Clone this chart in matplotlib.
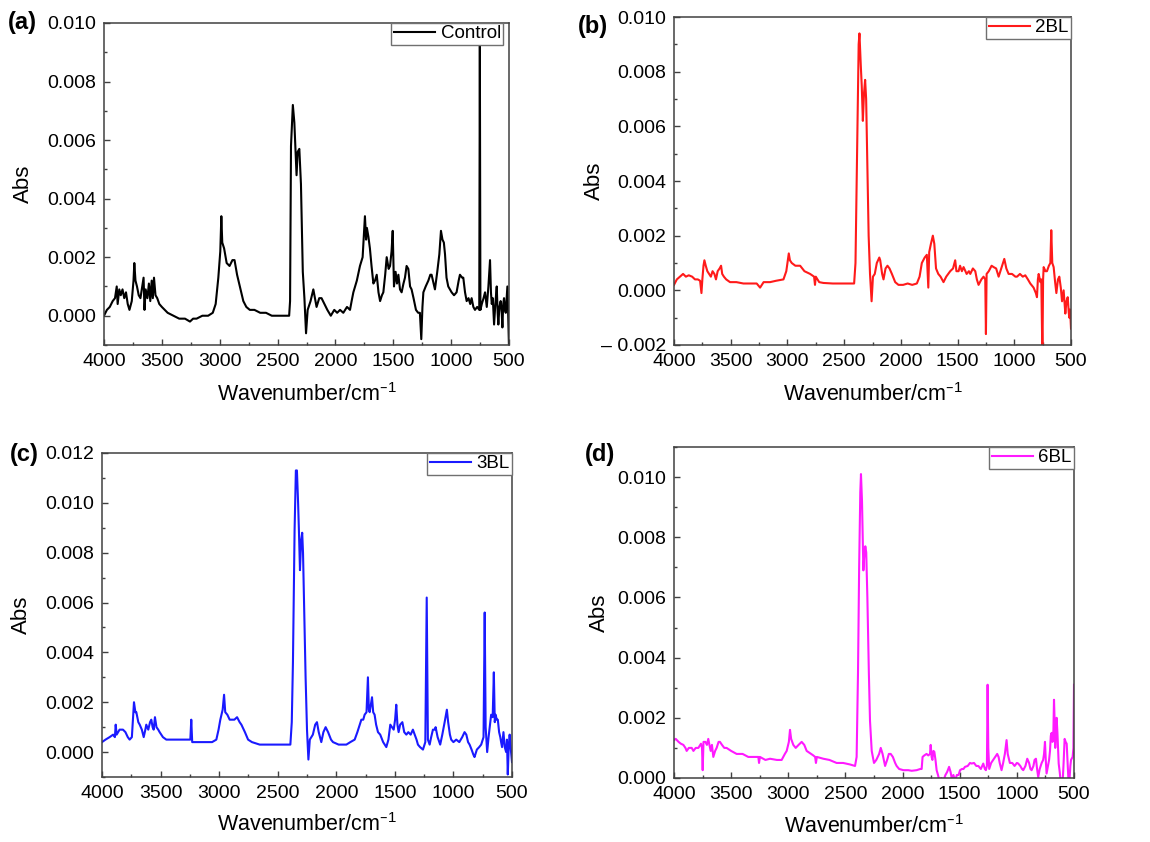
import matplotlib
matplotlib.use("Agg")
import matplotlib.pyplot as plt
from matplotlib.ticker import MultipleLocator

plt.rcParams['font.family'] = ['Liberation Sans', 'DejaVu Sans']
plt.rcParams['mathtext.default'] = 'regular'

# ---- data (wavenumber / absorbance) ----
control_wn = [4000, 3975, 3950, 3925, 3905, 3890, 3882, 3868, 3855, 3840, 3825, 3810, 3795, 3780,
              3760, 3745, 3738, 3728, 3715, 3700, 3685, 3670, 3658, 3650, 3640, 3625, 3612, 3600,
              3588, 3578, 3568, 3555, 3540, 3522, 3500, 3475, 3450, 3400, 3350, 3300, 3257, 3230,
              3200, 3150, 3100, 3060, 3035, 3012, 2995, 2986, 2978, 2962, 2940, 2915, 2890, 2872,
              2850, 2820, 2796, 2770, 2740, 2700, 2650, 2600, 2550, 2500, 2450, 2400, 2392, 2384,
              2368, 2355, 2336, 2326, 2312, 2298, 2282, 2268, 2254, 2240, 2215, 2191, 2163, 2140,
              2120, 2095, 2070, 2040, 2010, 1985, 1960, 1932, 1900, 1874, 1860, 1845, 1815, 1788,
              1765, 1745, 1735, 1728, 1715, 1702, 1688, 1672, 1658, 1643, 1628, 1614, 1598, 1586,
              1570, 1557, 1540, 1528, 1515, 1505, 1494, 1480, 1468, 1456, 1442, 1428, 1412, 1399,
              1385, 1370, 1355, 1342, 1325, 1304, 1285, 1270, 1258, 1248, 1240, 1220, 1197, 1180,
              1169, 1152, 1140, 1120, 1102, 1088, 1075, 1063, 1053, 1040, 1025, 1010, 996, 975,
              953, 935, 924, 905, 895, 880, 866, 850, 835, 823, 808, 794, 775, 757, 752, 747, 735,
              720, 707, 692, 678, 664, 656, 649, 640, 629, 618, 606, 598, 592, 583, 572, 563, 557,
              550, 543, 535, 528, 520, 514, 508, 500]
control_abs = [0.0000, 0.0002, 0.0003, 0.0005, 0.0006, 0.0010, 0.0004, 0.0009, 0.0007, 0.0009,
               0.0006, 0.0008, 0.0004, 0.0002, 0.0005, 0.0012, 0.0018, 0.0012, 0.0010, 0.0007,
               0.0006, 0.0010, 0.0013, 0.0002, 0.0009, 0.0006, 0.0011, 0.0005, 0.0012, 0.0006,
               0.0013, 0.0007, 0.0006, 0.0004, 0.0003, 0.0002, 0.0001, 0.0000, -0.0001, -0.0001,
               -0.0002, -0.0001, -0.0001, 0.0000, 0.0000, 0.0001, 0.0004, 0.0013, 0.0022, 0.0034,
               0.0025, 0.0023, 0.0018, 0.0017, 0.0019, 0.0019, 0.0014, 0.0009, 0.0005, 0.0003,
               0.0002, 0.0002, 0.0001, 0.0001, 0.0000, 0.0000, 0.0000, 0.0000, 0.0005, 0.0058,
               0.0072, 0.0066, 0.0048, 0.0056, 0.0057, 0.0045, 0.0015, 0.0006, -0.0006, 0.0002,
               0.0005, 0.0009, 0.0003, 0.0006, 0.0006, 0.0004, 0.0002, 0.0000, 0.0002, 0.0001,
               0.0002, 0.0001, 0.0003, 0.0002, 0.0005, 0.0008, 0.0012, 0.0017, 0.0020, 0.0034,
               0.0026, 0.0030, 0.0027, 0.0023, 0.0017, 0.0011, 0.0012, 0.0014, 0.0008, 0.0005,
               0.0007, 0.0008, 0.0014, 0.0020, 0.0016, 0.0017, 0.0022, 0.0029, 0.0010, 0.0015,
               0.0011, 0.0014, 0.0009, 0.0008, 0.0011, 0.0013, 0.0017, 0.0016, 0.0010, 0.0009,
               0.0006, 0.0002, 0.0001, 0.0001, -0.0008, 0.0003, 0.0008, 0.0010, 0.0012, 0.0014,
               0.0014, 0.0011, 0.0009, 0.0015, 0.0021, 0.0029, 0.0026, 0.0025, 0.0021, 0.0013,
               0.0010, 0.0009, 0.0008, 0.0007, 0.0008, 0.0012, 0.0014, 0.0013, 0.0013, 0.0008,
               0.0005, 0.0006, 0.0004, 0.0006, 0.0003, 0.0002, 0.0003, 0.0002, 0.0094, 0.0002,
               0.0004, 0.0006, 0.0008, 0.0003, 0.0010, 0.0019, 0.0008, 0.0004, 0.0006, -0.0003,
               0.0004, 0.0010, 0.0001, -0.0003, 0.0003, 0.0005, 0.0001, -0.0004, 0.0004, 0.0006,
               0.0002, 0.0001, 0.0006, 0.0010, 0.0002, -0.0011]

bl2_wn = [4000, 3975, 3947, 3920, 3895, 3870, 3840, 3815, 3790, 3770, 3758, 3750, 3740, 3732,
          3720, 3706, 3690, 3675, 3660, 3644, 3630, 3615, 3598, 3585, 3575, 3560, 3540, 3506,
          3450, 3388, 3330, 3271, 3241, 3210, 3153, 3100, 3035, 3010, 3000, 2988, 2978, 2962,
          2930, 2888, 2850, 2800, 2765, 2757, 2750, 2720, 2683, 2600, 2500, 2412, 2400, 2388,
          2372, 2365, 2353, 2345, 2335, 2325, 2315, 2306, 2298, 2284, 2272, 2258, 2246, 2230,
          2212, 2190, 2182, 2165, 2153, 2135, 2118, 2100, 2079, 2050, 2021, 1980, 1940, 1900,
          1859, 1835, 1815, 1790, 1771, 1758, 1750, 1735, 1718, 1705, 1690, 1670, 1650, 1624,
          1600, 1565, 1540, 1521, 1510, 1491, 1478, 1462, 1447, 1420, 1400, 1388, 1365, 1344,
          1330, 1315, 1290, 1271, 1256, 1250, 1244, 1225, 1200, 1182, 1160, 1138, 1115, 1100,
          1088, 1070, 1050, 1020, 990, 976, 950, 925, 903, 880, 859, 830, 810, 800, 792, 785,
          770, 762, 752, 746, 741, 725, 712, 695, 682, 674, 665, 653, 640, 629, 615, 603, 590,
          579, 565, 550, 540, 529, 520, 515, 508, 500]
bl2_abs = [0.0002, 0.0004, 0.0005, 0.0006, 0.0005, 0.00055, 0.0005, 0.0004, 0.0004, 0.00035,
           -0.0001, 0.0004, 0.0009, 0.0011, 0.0009, 0.0007, 0.0006, 0.0005, 0.0007, 0.0006,
           0.0004, 0.0007, 0.0008, 0.0009, 0.0006, 0.0005, 0.0004, 0.0003, 0.0003, 0.00025,
           0.00025, 0.00025, 0.0001, 0.0003, 0.0003, 0.00035, 0.0004, 0.0007, 0.0010, 0.00135,
           0.0011, 0.0010, 0.0009, 0.0009, 0.0007, 0.0006, 0.0005, 0.0002, 0.0005, 0.0003,
           0.00027, 0.00025, 0.00025, 0.00025, 0.0010, 0.0045, 0.0090, 0.0094, 0.0082, 0.0075,
           0.0062, 0.0072, 0.0077, 0.0070, 0.0052, 0.0020, 0.0006, -0.0004, 0.0005, 0.0006,
           0.0010, 0.0012, 0.0011, 0.0006, 0.0004, 0.0008, 0.0009, 0.0008, 0.0006, 0.0003,
           0.0002, 0.0002, 0.00025, 0.0002, 0.00025, 0.0005, 0.0010, 0.0012, 0.0013, 0.0001,
           0.0014, 0.0017, 0.0020, 0.0017, 0.0008, 0.0006, 0.0005, 0.0003, 0.0005, 0.0007,
           0.0008, 0.0011, 0.0007, 0.0007, 0.0009, 0.0007, 0.00085, 0.0006, 0.0007, 0.0006,
           0.0008, 0.0007, 0.0004, 0.0002, 0.0004, 0.0005, 0.0004, -0.0016, 0.0006, 0.0007,
           0.0009, 0.00085, 0.0008, 0.0005, 0.0008, 0.0010, 0.00115, 0.0008, 0.0006, 0.0006,
           0.0005, 0.0005, 0.0006, 0.0005, 0.00055, 0.0004, 0.00025, 0.0001, -0.0001, -0.00025,
           0.0004, 0.0006, 0.0003, 0.0004, -0.0025, 0.0004, 0.00085, 0.0007, 0.0007, 0.0009,
           0.0010, 0.0022, 0.0010, 0.00085, 0.0003, -0.0001, 0.0004, 0.0005, 0.0001, -0.0004,
           0.0000, -0.00085, -0.0004, -0.00025, -0.0008, -0.0010, -0.0007, -0.0014]

bl3_wn = [4000, 3970, 3935, 3905, 3890, 3883, 3875, 3850, 3821, 3800, 3780, 3764, 3745, 3735,
          3727, 3715, 3707, 3690, 3678, 3660, 3644, 3630, 3622, 3605, 3590, 3579, 3568, 3559,
          3548, 3535, 3520, 3508, 3480, 3451, 3400, 3337, 3290, 3246, 3238, 3230, 3200, 3150,
          3110, 3060, 3024, 3005, 2990, 2970, 2958, 2948, 2930, 2910, 2895, 2870, 2847, 2825,
          2810, 2780, 2753, 2720, 2654, 2600, 2512, 2450, 2392, 2380, 2370, 2356, 2345, 2336,
          2326, 2319, 2310, 2300, 2291, 2284, 2276, 2262, 2250, 2238, 2226, 2200, 2180, 2165,
          2150, 2128, 2110, 2091, 2070, 2045, 2028, 1980, 1950, 1914, 1880, 1843, 1820, 1800,
          1786, 1770, 1758, 1742, 1730, 1722, 1715, 1705, 1695, 1685, 1673, 1660, 1644, 1625,
          1600, 1573, 1555, 1539, 1525, 1510, 1498, 1488, 1478, 1468, 1455, 1436, 1420, 1402,
          1385, 1365, 1346, 1330, 1315, 1303, 1285, 1260, 1240, 1228, 1218, 1203, 1190, 1175,
          1160, 1152, 1135, 1113, 1095, 1075, 1056, 1045, 1030, 1019, 1000, 976, 950, 925, 905,
          890, 875, 862, 845, 830, 820, 800, 780, 763, 750, 743, 733, 725, 712, 700, 690, 678,
          665, 655, 647, 640, 630, 621, 610, 600, 593, 585, 573, 562, 550, 543, 536, 528, 520,
          510, 500]
bl3_abs = [0.0004, 0.0005, 0.0006, 0.0007, 0.0006, 0.0011, 0.0007, 0.0009, 0.0009, 0.0008,
           0.0006, 0.0005, 0.0006, 0.0014, 0.0020, 0.0016, 0.0016, 0.0012, 0.0011, 0.0009,
           0.0006, 0.0009, 0.0011, 0.0009, 0.0012, 0.0013, 0.0010, 0.0009, 0.0014, 0.0010,
           0.0009, 0.0008, 0.0006, 0.0005, 0.0005, 0.0005, 0.0005, 0.0005, 0.0013, 0.0004,
           0.0004, 0.0004, 0.0004, 0.0004, 0.0005, 0.0009, 0.0013, 0.0017, 0.0023, 0.0016,
           0.0015, 0.0013, 0.0013, 0.0013, 0.0014, 0.0012, 0.0011, 0.0008, 0.0005, 0.0004,
           0.0003, 0.0003, 0.0003, 0.0003, 0.0003, 0.0012, 0.0036, 0.0089, 0.0113, 0.0113,
           0.0100, 0.0089, 0.0073, 0.0085, 0.0088, 0.0080, 0.0062, 0.0030, 0.0009, -0.0003,
           0.0005, 0.0007, 0.0011, 0.0012, 0.0008, 0.0004, 0.0008, 0.0010, 0.0008, 0.0005,
           0.0004, 0.0003, 0.0003, 0.0003, 0.0004, 0.0005, 0.0008, 0.0011, 0.0013, 0.0013,
           0.0015, 0.0016, 0.0030, 0.0017, 0.0016, 0.0019, 0.0022, 0.0016, 0.0015, 0.0011,
           0.0008, 0.0007, 0.0004, 0.0002, 0.0005, 0.0011, 0.0010, 0.0009, 0.0013, 0.0019,
           0.0011, 0.0008, 0.0011, 0.0012, 0.0008, 0.0007, 0.0008, 0.0007, 0.0009, 0.0007,
           0.0005, 0.0003, 0.0002, 0.0001, 0.0004, 0.0062, 0.0005, 0.0003, 0.0006, 0.0009,
           0.0009, 0.0010, 0.0006, 0.0003, 0.0007, 0.0012, 0.0017, 0.0012, 0.0007, 0.0005,
           0.0004, 0.0005, 0.0004, 0.0006, 0.0008, 0.0007, 0.0004, 0.0003, 0.0001, -0.0001,
           -0.0002, 0.0001, 0.0002, 0.0003, 0.0005, 0.0006, 0.0056, 0.0010, 0.0000, 0.0006,
           0.0010, 0.0015, 0.0014, 0.0032, 0.0012, 0.0015, 0.0013, 0.0013, 0.0008, 0.0006,
           0.0004, 0.0002, 0.0008, 0.0002, 0.0000, 0.0005, -0.0009, 0.0002, 0.0007, 0.0001,
           -0.0004]

bl6_wn = [4000, 3985, 3960, 3940, 3918, 3900, 3889, 3870, 3845, 3830, 3810, 3787, 3764, 3755,
          3749, 3742, 3725, 3712, 3700, 3690, 3679, 3668, 3656, 3640, 3627, 3610, 3598, 3580,
          3560, 3540, 3500, 3452, 3400, 3350, 3306, 3262, 3256, 3248, 3200, 3160, 3100, 3058,
          3030, 3014, 2995, 2985, 2975, 2956, 2935, 2910, 2883, 2860, 2839, 2800, 2781, 2765,
          2758, 2750, 2693, 2640, 2577, 2520, 2460, 2416, 2402, 2390, 2380, 2370, 2364, 2355,
          2343, 2335, 2326, 2318, 2308, 2295, 2285, 2270, 2250, 2230, 2205, 2191, 2175, 2153,
          2135, 2120, 2104, 2085, 2065, 2052, 2030, 1993, 1950, 1920, 1877, 1845, 1833, 1825,
          1810, 1790, 1775, 1760, 1754, 1746, 1739, 1730, 1722, 1712, 1702, 1690, 1677, 1660,
          1643, 1625, 1610, 1593, 1580, 1570, 1555, 1541, 1525, 1510, 1497, 1480, 1467, 1454,
          1430, 1410, 1396, 1375, 1355, 1337, 1315, 1294, 1280, 1271, 1262, 1256, 1250, 1242,
          1225, 1207, 1190, 1172, 1160, 1150, 1134, 1120, 1105, 1090, 1080, 1061, 1040, 1020,
          1000, 988, 970, 955, 944, 925, 909, 893, 881, 871, 855, 845, 833, 823, 813, 800, 783,
          770, 762, 754, 747, 740, 728, 718, 710, 703, 696, 688, 680, 675, 669, 664, 658, 652,
          645, 634, 625, 617, 608, 600, 591, 582, 573, 564, 555, 547, 540, 532, 526, 512, 505,
          500]
bl6_abs = [0.00126, 0.0013, 0.0012, 0.00114, 0.0011, 0.0010, 0.0009, 0.0010, 0.0010, 0.0009,
           0.0010, 0.0010, 0.00114, 0.0010, 0.00026, 0.0012, 0.0012, 0.0011, 0.0013, 0.0011,
           0.0009, 0.0011, 0.0007, 0.0009, 0.0010, 0.0012, 0.0012, 0.0011, 0.0010, 0.0010,
           0.0009, 0.0008, 0.0008, 0.0007, 0.0007, 0.0007, 0.0005, 0.0007, 0.0006, 0.00064,
           0.0006, 0.0006, 0.0008, 0.0009, 0.0012, 0.0016, 0.0013, 0.0011, 0.0010, 0.0011,
           0.0012, 0.0011, 0.0009, 0.0008, 0.00075, 0.0007, 0.0005, 0.0007, 0.00064, 0.0006,
           0.0005, 0.0005, 0.00045, 0.0004, 0.0007, 0.0035, 0.0070, 0.0095, 0.0101, 0.0092,
           0.0069, 0.0074, 0.0077, 0.0075, 0.0060, 0.0035, 0.0019, 0.0009, 0.0005, 0.0006,
           0.0008, 0.0010, 0.0008, 0.0004, 0.0006, 0.0008, 0.0008, 0.0007, 0.0005, 0.0004,
           0.0003, 0.00026, 0.00026, 0.00024, 0.00026, 0.0003, 0.0003, 0.0007, 0.00075, 0.0008,
           0.00075, 0.0008, 0.0011, 0.0007, 0.0006, 0.0009, 0.00087, 0.0006, 0.00026, 0.0001,
           -0.0001, 0.0000, -0.0001, 0.0001, 0.0002, 0.00037, 0.0002, 0.0000, 0.0001, -0.0001,
           0.0001, 0.0001, 0.00026, 0.0003, 0.0003, 0.00037, 0.0004, 0.0005, 0.00048, 0.0005,
           0.0004, 0.0004, 0.0003, 0.00048, 0.0003, 0.00026, 0.0004, 0.0031, 0.0010, 0.0003,
           0.0005, 0.0006, 0.0007, 0.0008, 0.0007, 0.0005, 0.00026, 0.0005, 0.0008, 0.00126,
           0.0008, 0.0005, 0.0005, 0.0004, 0.0005, 0.00048, 0.0004, 0.0003, 0.00026, 0.0004,
           0.00064, 0.0005, 0.0003, 0.00026, 0.0004, 0.0006, 0.00064, 0.0003, 0.00003, 0.0003,
           0.0005, 0.0006, 0.0008, 0.0012, 0.0006, 0.00015, 0.0004, 0.0006, 0.0009, 0.0014,
           0.0015, 0.0012, 0.0016, 0.0026, 0.0018, 0.0010, 0.0016, 0.0020, 0.0015, 0.00048,
           0.0002, -0.0001, -0.0003, -0.0002, 0.0005, 0.0013, 0.0012, 0.00114, 0.0004, -0.0002,
           -0.0001, 0.0004, 0.0006, 0.0007, 0.0010, 0.0031]

series = [
    ('(a)', 'Control', control_wn, control_abs, 'black'),
    ('(b)', '2BL', bl2_wn, bl2_abs, '#ff1a1a'),
    ('(c)', '3BL', bl3_wn, bl3_abs, '#1a1aff'),
    ('(d)', '6BL', bl6_wn, bl6_abs, '#ff1aff'),
]
ylims = [(-0.001, 0.010), (-0.002, 0.010), (-0.001, 0.012), (0.0, 0.011)]
yticks = [[0, 0.002, 0.004, 0.006, 0.008, 0.010],
          [-0.002, 0, 0.002, 0.004, 0.006, 0.008, 0.010],
          [0, 0.002, 0.004, 0.006, 0.008, 0.010, 0.012],
          [0, 0.002, 0.004, 0.006, 0.008, 0.010]]

# axes boxes in pixels: left, top, right, bottom (figure is 1150 x 842)
W, H = 1150, 842
boxes = [(104, 23, 509, 345), (674, 17, 1071, 345), (102, 453, 512, 777), (674, 447, 1074, 778)]
tags_xy = [(8, 23), (578, 27), (10, 455), (585, 455)]
ylabel_x = [34, 605, 32, 610]      # right edge of the rotated "Abs" label
xlabel_top = [383, 383, 813, 815]  # top of the x label
legend_shift = [6, 0, 0, 0]

fig = plt.figure(figsize=(W / 100, H / 100), dpi=100)
spine_col = '#404040'

for i, (tag, name, wn, ab, col) in enumerate(series):
    l, t, r, b = boxes[i]
    ax = fig.add_axes([l / W, 1 - b / H, (r - l) / W, (b - t) / H])
    ax.plot(wn, ab, color=col, lw=1.5, label=name)
    ax.set_xlim(4000, 500)
    ax.set_ylim(*ylims[i])
    ax.set_xticks([4000, 3500, 3000, 2500, 2000, 1500, 1000, 500])
    ax.xaxis.set_minor_locator(MultipleLocator(250))
    ax.yaxis.set_minor_locator(MultipleLocator(0.001))
    labels = []
    for v in yticks[i]:
        labels.append('\u2013 %.3f' % abs(v) if v < 0 else '%.3f' % v)
    ax.set_yticks(yticks[i], labels)
    ax.tick_params(which='both', direction='in', color=spine_col, labelsize=14, pad=5.5)
    ax.tick_params(which='major', length=4, width=1)
    ax.tick_params(which='minor', length=2.5, width=1)
    for s in ax.spines.values():
        s.set_color(spine_col)
        s.set_linewidth(1.1)

    ax.set_xlabel('Wavenumber/cm$^{\u2013 1}$', fontsize=15.5)
    ax.set_ylabel('Abs', fontsize=16)
    ax.xaxis.set_label_coords(0.5, -(xlabel_top[i] - b) / (b - t))
    ax.yaxis.set_label_coords((ylabel_x[i] - l) / (r - l), 0.5)

    leg = ax.legend(loc='upper right', bbox_to_anchor=(1 - legend_shift[i] / (r - l), 1),
                    borderaxespad=0, fontsize=13.5, fancybox=False, framealpha=1,
                    edgecolor='#707070', borderpad=0.12, handlelength=2.2,
                    handletextpad=0.3)
    leg.get_frame().set_linewidth(1)

    tx, ty = tags_xy[i]
    fig.text(tx / W, 1 - ty / H, tag, fontsize=17, fontweight='bold', va='center', ha='left')

fig.savefig('out.png', dpi=100)
